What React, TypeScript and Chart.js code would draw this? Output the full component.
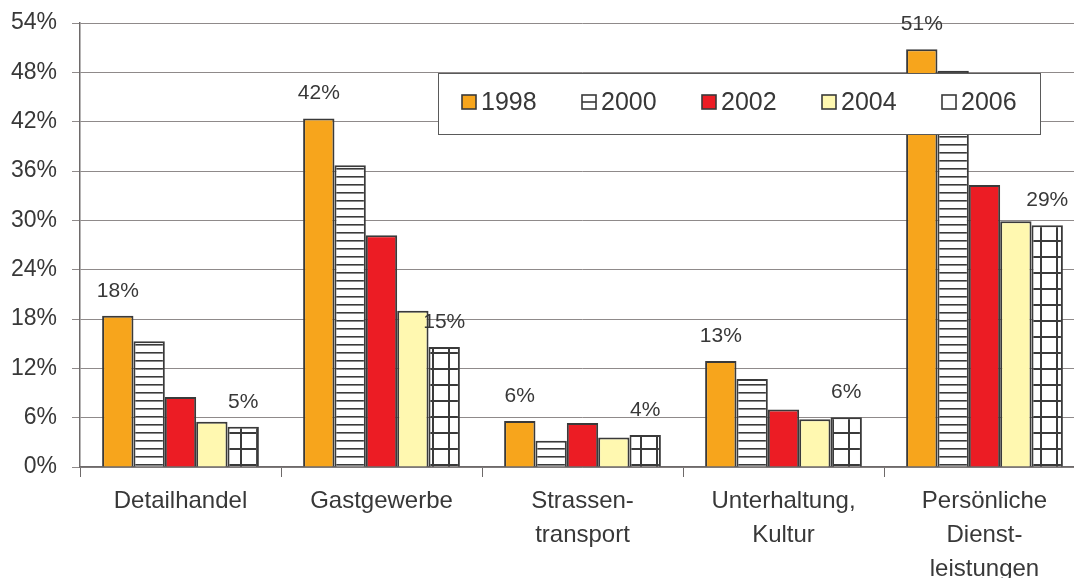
import React, { useEffect, useRef } from "react";
import { Chart, registerables } from "chart.js";

Chart.register(...registerables);

const categories: string[][] = [
  ["Detailhandel"],
  ["Gastgewerbe"],
  ["Strassen-", "transport"],
  ["Unterhaltung,", "Kultur"],
  ["Persönliche", "Dienst-", "leistungen"],
];
const seriesNames = ["1998", "2000", "2002", "2004", "2006"];
const v1998 = [18.4, 42.4, 5.6, 12.9, 50.8];
const v2000 = [15.3, 36.7, 3.2, 10.7, 48.2];
const v2002 = [8.5, 28.2, 5.35, 7.0, 34.3];
const v2004 = [5.5, 19.0, 3.6, 5.8, 29.9];
const v2006 = [4.9, 14.6, 3.9, 6.05, 29.4];
const yTicks = [0, 6, 12, 18, 24, 30, 36, 42, 48, 54];
const labeledSeries = [0, 4];

const FONT = "'Liberation Sans', Arial, sans-serif";
const TEXT = "#383838";
const EDGE = "#3a3a3a";

function hLinePattern(): CanvasPattern | string {
  const c = document.createElement("canvas");
  c.width = 8;
  c.height = 8;
  const g = c.getContext("2d");
  if (!g) return "#fff";
  g.fillStyle = "#ffffff";
  g.fillRect(0, 0, 8, 8);
  g.fillStyle = EDGE;
  g.fillRect(0, 0, 8, 1.6);
  return g.createPattern(c, "repeat") || "#fff";
}

function gridPattern(): CanvasPattern | string {
  const c = document.createElement("canvas");
  c.width = 16;
  c.height = 16;
  const g = c.getContext("2d");
  if (!g) return "#fff";
  g.fillStyle = "#ffffff";
  g.fillRect(0, 0, 16, 16);
  g.fillStyle = EDGE;
  g.fillRect(0, 0, 16, 2);
  g.fillRect(0, 0, 2, 16);
  return g.createPattern(c, "repeat") || "#fff";
}

export default function App() {
  const ref = useRef<HTMLCanvasElement>(null);

  useEffect(() => {
    document.body.style.margin = "0";
    const canvas = ref.current;
    if (!canvas) return;
    const hp = hLinePattern();
    const gp = gridPattern();
    const fills: any[] = ["#F7A51C", hp, "#EC1C24", "#FFF8B0", gp];
    const values = [v1998, v2000, v2002, v2004, v2006];

    const labelPlugin = {
      id: "barLabels",
      afterDatasetsDraw(chart: any) {
        const ctx = chart.ctx;
        ctx.save();
        ctx.font = `21px ${FONT}`;
        ctx.fillStyle = TEXT;
        ctx.textAlign = "center";
        ctx.textBaseline = "alphabetic";
        labeledSeries.forEach((di) => {
          const meta = chart.getDatasetMeta(di);
          meta.data.forEach((el: any, i: number) => {
            const v = values[di][i];
            ctx.fillText(Math.round(v) + "%", el.x, el.y - 19);
          });
        });
        ctx.restore();
      },
    };

    const legendPlugin = {
      id: "boxLegend",
      afterDraw(chart: any) {
        const ctx = chart.ctx;
        ctx.save();
        const bx = 438, by = 73, bw = 602, bh = 61;
        ctx.fillStyle = "#ffffff";
        ctx.fillRect(bx, by, bw, bh);
        ctx.strokeStyle = "#5a5a5a";
        ctx.lineWidth = 1;
        ctx.strokeRect(bx + 0.5, by + 0.5, bw, bh);
        ctx.font = `25px ${FONT}`;
        ctx.textBaseline = "middle";
        ctx.textAlign = "left";
        seriesNames.forEach((name, i) => {
          const mx = 462 + i * 120;
          const my = 95;
          const s = 14;
          ctx.fillStyle = typeof fills[i] === "string" ? fills[i] : "#ffffff";
          ctx.fillRect(mx, my, s, s);
          ctx.strokeStyle = EDGE;
          ctx.lineWidth = 1.6;
          ctx.strokeRect(mx, my, s, s);
          if (i === 1) {
            ctx.beginPath();
            ctx.moveTo(mx, my + s / 2);
            ctx.lineTo(mx + s, my + s / 2);
            ctx.stroke();
          }
          ctx.fillStyle = TEXT;
          ctx.fillText(name, mx + 19, my + s / 2 + 1);
        });
        ctx.restore();
      },
    };

    const chart = new Chart(canvas, {
      type: "bar",
      data: {
        labels: categories,
        datasets: seriesNames.map((name, i) => ({
          label: name,
          data: values[i],
          backgroundColor: fills[i],
          borderColor: EDGE,
          borderWidth: 2,
          barPercentage: 1,
          categoryPercentage: 0.78,
        })),
      },
      options: {
        animation: false,
        responsive: false,
        layout: { padding: { top: 23, left: 0, right: 1, bottom: 0 } },
        plugins: {
          legend: { display: false },
          tooltip: { enabled: false },
        },
        scales: {
          x: {
            offset: true,
            grid: {
              display: true,
              drawOnChartArea: false,
              drawTicks: true,
              tickLength: 10,
              color: "#6e6a6a",
              lineWidth: 1,
            },
            border: { display: true, color: "#6e6a6a", width: 1.5 },
            ticks: {
              color: TEXT,
              font: { family: FONT, size: 24, lineHeight: 1.4 },
              padding: 8,
              maxRotation: 0,
              autoSkip: false,
            },
            afterFit(scale: any) {
              scale.height = 111;
            },
          },
          y: {
            min: 0,
            max: 54,
            afterBuildTicks(scale: any) {
              scale.ticks = yTicks.map((v) => ({ value: v }));
            },
            grid: {
              color: "#8f8a8a",
              lineWidth: 1,
              tickLength: 8,
            },
            border: { display: true, color: "#6e6a6a", width: 1.5 },
            ticks: {
              color: TEXT,
              font: { family: FONT, size: 23 },
              padding: 15,
              callback: (v: any) => v + "%",
            },
            afterFit(scale: any) {
              scale.width = 80;
              scale.paddingTop = 0;
              scale.paddingBottom = 0;
            },
          },
        },
      },
      plugins: [labelPlugin, legendPlugin],
    });
    return () => chart.destroy();
  }, []);

  return (
    <div style={{ width: 1074, height: 578, overflow: "hidden", background: "#fff" }}>
      <canvas ref={ref} width={1086} height={578} style={{ display: "block" }} />
    </div>
  );
}
